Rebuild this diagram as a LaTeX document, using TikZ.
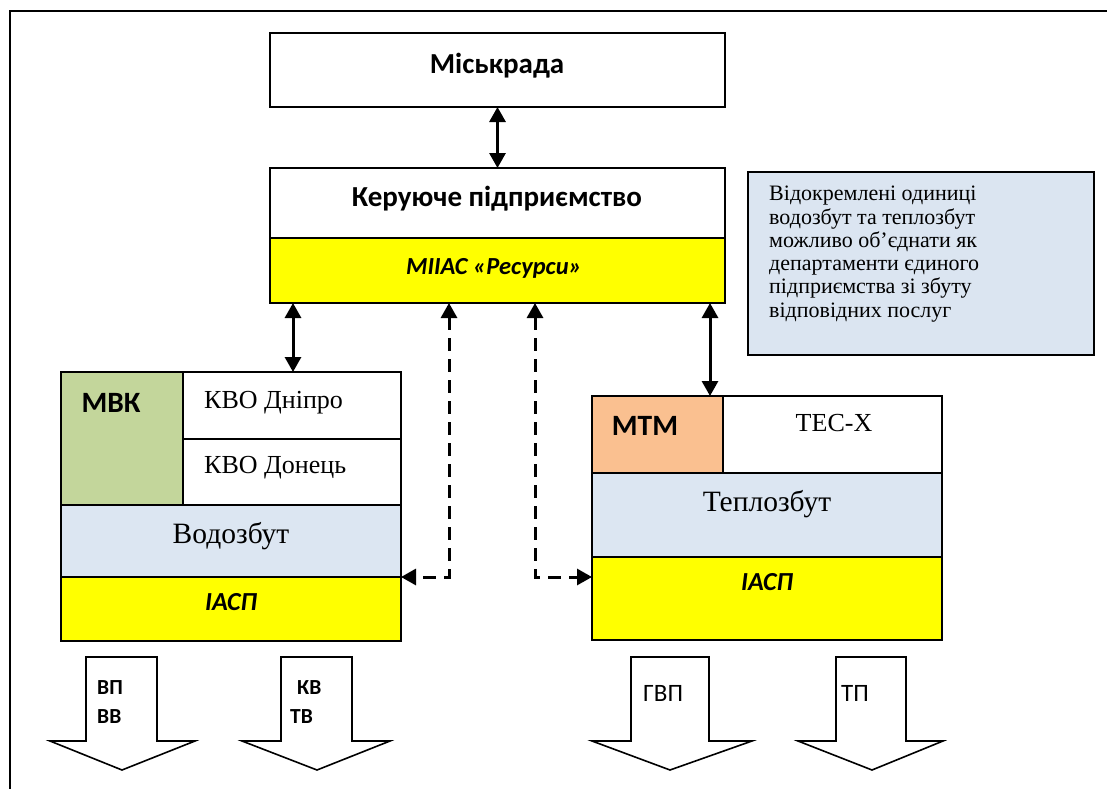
\documentclass[tikz,border=0pt]{standalone}
\usepackage{fontspec}
\setmainfont{Liberation Serif}
\newfontfamily\calibri{Carlito}
\usetikzlibrary{arrows.meta}
\definecolor{paleblue}{HTML}{DCE6F2}
\definecolor{notefill}{HTML}{DBE5F1}
\definecolor{mvkgreen}{HTML}{C3D69B}
\definecolor{mtmorange}{HTML}{FAC090}
\definecolor{infoyellow}{HTML}{FFFF00}
\begin{document}
\begin{tikzpicture}[x=1pt,y=-1pt,
  cell/.style={draw, line width=2pt, inner sep=0pt, outer sep=0pt, anchor=north west},
  headtxt/.style={font=\calibri\bfseries\fontsize{29}{33}\selectfont, inner sep=0pt, anchor=base},
  systxt/.style={font=\calibri\bfseries\itshape\fontsize{24.5}{28}\selectfont, inner sep=0pt, anchor=base},
  iasptxt/.style={font=\calibri\bfseries\itshape\fontsize{26}{30}\selectfont, inner sep=0pt, anchor=base},
  unittxt/.style={font=\calibri\bfseries\fontsize{29.5}{33}\selectfont, inner sep=0pt, anchor=base},
  serif/.style={font=\fontsize{26}{30}\selectfont, inner sep=0pt},
  serifbig/.style={font=\fontsize{29.5}{33}\selectfont, inner sep=0pt, anchor=base},
  flowtxt/.style={font=\calibri\bfseries\fontsize{21.5}{24}\selectfont, inner sep=0pt, anchor=base west},
  flowtxtr/.style={font=\calibri\fontsize{25}{28}\selectfont, inner sep=0pt, anchor=base west},
  solidlink/.style={line width=3pt, {Triangle[width=16pt,length=15pt]}-{Triangle[width=16pt,length=15pt]}},
  dashlink/.style={line width=3pt, dash pattern=on 13pt off 8pt, {Triangle[width=16pt,length=15pt]}-{Triangle[width=16pt,length=15pt]}},
  flowarrow/.style={draw, line width=1.6pt, fill=white, line join=miter}
]
\useasboundingbox (0,0) rectangle (1107,789);

% outer frame (open to the right and bottom)
\draw[line width=2.2pt] (1107,11) -- (10,11) -- (10,789);

% top level
\node[cell, minimum width=455pt, minimum height=74pt] (misk) at (270,33) {};
\node[headtxt] (misktxt) at (497,74) {Міськрада};

\node[cell, minimum width=455pt, minimum height=70pt] (ker) at (270,168) {};
\node[headtxt] (kertxt) at (497,206) {Керуюче підприємство};
\node[cell, fill=infoyellow, minimum width=455pt, minimum height=65pt] (res) at (270,238) {};
\node[systxt] (restxt) at (494,274) {МІІАС «Ресурси»};

% note
\node[cell, fill=notefill, line width=1.6pt, minimum width=346pt, minimum height=183pt] (note) at (748,172) {};
\node[font=\fontsize{22}{23.3}\selectfont, align=left, inner sep=0pt, anchor=north west] (notetxt) at (769,186)
  {Відокремлені одиниці\\водозбут та теплозбут\\можливо об’єднати як\\департаменти єдиного\\підприємства зі збуту\\відповідних послуг};

% water utility block
\node[cell, fill=mvkgreen, minimum width=122pt, minimum height=133pt] (mbk) at (61,372) {};
\node[unittxt] (mbktxt) at (111,412) {МВК};
\node[cell, minimum width=218pt, minimum height=67pt] (dn) at (183,372) {};
\node[serif, anchor=base west] (dntxt) at (204,408) {КВО Дніпро};
\node[cell, minimum width=218pt, minimum height=66pt] (dc) at (183,439) {};
\node[serif, anchor=base west] (dctxt) at (204,473) {КВО Донець};
\node[cell, fill=paleblue, minimum width=340pt, minimum height=72pt] (vod) at (61,505) {};
\node[serifbig] (vodtxt) at (231,543) {Водозбут};
\node[cell, fill=infoyellow, minimum width=340pt, minimum height=64pt] (iaspL) at (61,577) {};
\node[iasptxt] (iaspLtxt) at (231,610) {ІАСП};

% heat utility block
\node[cell, fill=mtmorange, minimum width=131pt, minimum height=77pt] (mtm) at (592,396) {};
\node[unittxt] (mtmtxt) at (645,435) {МТМ};
\node[cell, minimum width=219pt, minimum height=77pt] (tes) at (723,396) {};
\node[serif, anchor=base] (testxt) at (834,431) {ТЕС-Х};
\node[cell, fill=paleblue, minimum width=350pt, minimum height=84pt] (tep) at (592,473) {};
\node[serifbig] (teptxt) at (767,511) {Теплозбут};
\node[cell, fill=infoyellow, minimum width=350pt, minimum height=83pt] (iaspR) at (592,557) {};
\node[iasptxt] (iaspRtxt) at (767,590) {ІАСП};

% links
\draw[solidlink] (misk.south) -- (ker.north);
\draw[solidlink] ([xshift=23pt]res.south west) -- ([xshift=110pt]dn.north west);
\draw[dashlink] ([xshift=179pt]res.south west) |- (vod.south east);
\draw[dashlink] ([xshift=265pt]res.south west) |- (iaspR.west |- vod.south east);
\draw[solidlink] ([xshift=440pt]res.south west) -- ([xshift=118pt]mtm.north west);

% service flows
\draw[flowarrow] (86,657) -- (157,657) -- (157,741) -- (195,741) -- (122,770) -- (50,741) -- (86,741) -- cycle;
\draw[flowarrow] (281,657) -- (352,657) -- (352,741) -- (390,741) -- (317,770) -- (242,741) -- (281,741) -- cycle;
\draw[flowarrow] (631,657) -- (709,657) -- (709,741) -- (752,741) -- (670,770) -- (592,741) -- (631,741) -- cycle;
\draw[flowarrow] (836,657) -- (906,657) -- (906,741) -- (943,741) -- (872,770) -- (798,741) -- (836,741) -- cycle;
\node[flowtxt] (vp) at (97,694) {ВП};
\node[flowtxt] (vv) at (97,723) {ВВ};
\node[flowtxt] (kv) at (297,694) {КВ};
\node[flowtxt] (tv) at (290,723) {ТВ};
\node[flowtxtr] (gvp) at (643,701) {ГВП};
\node[flowtxtr] (tp) at (841,701) {ТП};
\end{tikzpicture}
\end{document}
